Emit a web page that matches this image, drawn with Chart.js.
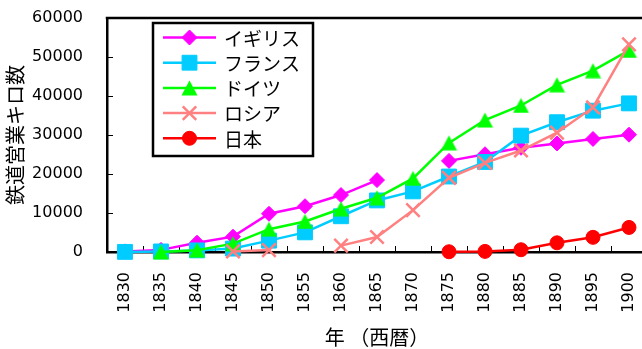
<!DOCTYPE html>
<html>
<head>
<meta charset="utf-8">
<script src="https://cdn.jsdelivr.net/npm/chart.js@4/dist/chart.umd.min.js"></script>
<style>
  html, body { margin: 0; padding: 0; overflow: hidden; background: #fff; }
  #wrap { width: 647px; height: 349px; position: relative; }
</style>
</head>
<body>
<div id="wrap"><canvas id="c"></canvas></div>
<script>
// Railway route length (km) by country, every five years
const years   = ['1830','1835','1840','1845','1850','1855','1860','1865','1870','1875','1880','1885','1890','1895','1900'];
const britain = [157, 544, 2390, 3931, 9797, 11744, 14603, 18439, null, 23365, 25060, 26720, 27827, 28986, 30079];
const france  = [31, 141, 410, 875, 2915, 5037, 9167, 13227, 15544, 19357, 23089, 29839, 33280, 36240, 38109];
const germany = [null, 6, 469, 2143, 5856, 7826, 11089, 13900, 18876, 27981, 33838, 37572, 42869, 46500, 51678];
const russia  = [null, null, null, 144, 501, null, 1626, 3842, 10731, 19029, 22865, 26024, 30596, 37058, 53234];
const japan   = [null, null, null, null, null, null, null, null, null, 62, 158, 580, 2349, 3763, 6300];

const seriesNames = ['イギリス', 'フランス', 'ドイツ', 'ロシア', '日本'];
const yMin = 0, yMax = 60000, yStep = 10000;
const yTitle = '鉄道営業キロ数';
const xTitle = '年 （西暦）';

const tickFont = { family: 'DejaVu Sans', size: 16 };
const cjkFont = '"Noto Sans CJK JP", "Noto Sans CJK SC", sans-serif';

// Upright triangle marker centred on its point
function triangleMarker(color) {
  const cv = document.createElement('canvas');
  cv.width = 17; cv.height = 16;
  const g = cv.getContext('2d');
  g.fillStyle = color;
  g.beginPath();
  g.moveTo(8.5, 0.5); g.lineTo(16.5, 15.5); g.lineTo(0.5, 15.5);
  g.closePath(); g.fill();
  return cv;
}

function series(label, data, color, style, radius, order) {
  return {
    label, data, order,
    borderColor: color, backgroundColor: color,
    borderWidth: 2.5,
    pointStyle: style, pointRadius: radius, pointHoverRadius: radius,
    pointBackgroundColor: color, pointBorderColor: color,
    pointBorderWidth: style === 'crossRot' ? 2.5 : 1,
    tension: 0, spanGaps: false, clip: false
  };
}

const datasets = [
  series(seriesNames[0], britain, '#FF00FF', 'rectRot', 7.5, 4),
  series(seriesNames[1], france,  '#00CCFF', 'rect', 10.5, 3),
  series(seriesNames[2], germany, '#00FF00', triangleMarker('#00FF00'), 8, 2),
  series(seriesNames[3], russia,  '#FF8080', 'crossRot', 9.5, 1),
  series(seriesNames[4], japan,   '#FF0000', 'circle', 7, 0)
];

// Frame line on top and inward tick marks on both axes
const frameAndTicks = {
  id: 'frameAndTicks',
  beforeDatasetsDraw(chart) {
    const { ctx, chartArea: a, scales } = chart;
    ctx.save();
    ctx.strokeStyle = '#000';
    ctx.lineWidth = 2.5;
    ctx.beginPath();
    ctx.moveTo(a.left - 1.25, a.top);
    ctx.lineTo(a.right, a.top);
    ctx.stroke();
    ctx.lineWidth = 1;
    ctx.beginPath();
    const x = scales.x, y = scales.y;
    for (let i = 0; i < years.length - 1; i++) {
      const px = Math.round((x.getPixelForValue(i) + x.getPixelForValue(i + 1)) / 2) + 0.5;
      ctx.moveTo(px, a.bottom);
      ctx.lineTo(px, a.bottom - 6);
    }
    y.ticks.forEach(t => {
      const py = Math.round(y.getPixelForValue(t.value)) + 0.5;
      ctx.moveTo(a.left, py);
      ctx.lineTo(a.left + 6, py);
    });
    ctx.stroke();
    ctx.restore();
  }
};

function drawMarker(ctx, ds, cx, cy) {
  const st = ds.pointStyle, r = ds.pointRadius;
  ctx.fillStyle = ds.pointBackgroundColor;
  ctx.strokeStyle = ds.pointBorderColor;
  ctx.lineWidth = ds.pointBorderWidth;
  if (st instanceof HTMLCanvasElement) {
    ctx.drawImage(st, cx - st.width / 2, cy - st.height / 2);
    return;
  }
  ctx.beginPath();
  if (st === 'circle') {
    ctx.arc(cx, cy, r, 0, Math.PI * 2);
    ctx.fill(); ctx.stroke();
  } else if (st === 'rect') {
    const s = r * Math.SQRT1_2;
    ctx.rect(cx - s, cy - s, 2 * s, 2 * s);
    ctx.fill(); ctx.stroke();
  } else if (st === 'rectRot') {
    ctx.moveTo(cx, cy - r); ctx.lineTo(cx + r, cy); ctx.lineTo(cx, cy + r); ctx.lineTo(cx - r, cy);
    ctx.closePath(); ctx.fill(); ctx.stroke();
  } else if (st === 'crossRot') {
    const s = r * Math.SQRT1_2;
    ctx.moveTo(cx - s, cy - s); ctx.lineTo(cx + s, cy + s);
    ctx.moveTo(cx + s, cy - s); ctx.lineTo(cx - s, cy + s);
    ctx.stroke();
  }
}

// Boxed legend sitting inside the plot
const insetLegend = {
  id: 'insetLegend',
  afterDraw(chart) {
    const ctx = chart.ctx;
    const bx = 153, by = 23, bw = 160, bh = 133;
    ctx.save();
    ctx.fillStyle = '#fff';
    ctx.fillRect(bx, by, bw, bh);
    ctx.strokeStyle = '#000';
    ctx.lineWidth = 2.5;
    ctx.strokeRect(bx, by, bw, bh);
    chart.data.datasets.forEach((ds, i) => {
      const cy = 37.5 + i * 25.2;
      ctx.strokeStyle = ds.borderColor;
      ctx.lineWidth = ds.borderWidth;
      ctx.beginPath();
      ctx.moveTo(163, cy); ctx.lineTo(216, cy);
      ctx.stroke();
      drawMarker(ctx, ds, 189.5, cy);
      ctx.fillStyle = '#000';
      ctx.font = '19px ' + cjkFont;
      ctx.textBaseline = 'middle';
      ctx.textAlign = 'left';
      ctx.fillText(ds.label, 224, cy + 1);
    });
    ctx.restore();
  }
};

new Chart(document.getElementById('c'), {
  type: 'line',
  data: { labels: years, datasets },
  plugins: [frameAndTicks, insetLegend],
  options: {
    responsive: true,
    maintainAspectRatio: false,
    animation: false,
    devicePixelRatio: 1,
    layout: { autoPadding: false, padding: { top: 18, left: 3, right: 0, bottom: 0 } },
    plugins: { legend: { display: false }, tooltip: { enabled: false } },
    scales: {
      x: {
        type: 'category',
        offset: true,
        grid: { display: false },
        border: { display: true, color: '#000', width: 2.5 },
        ticks: { color: '#000', font: tickFont, minRotation: 90, maxRotation: 90, padding: 12, autoSkip: false },
        title: { display: true, text: xTitle, color: '#000', font: { family: cjkFont, size: 20, lineHeight: 1.2 }, padding: 0 },
        afterFit(scale) {
          scale.height = 97;
          scale.paddingLeft = 0;
          scale.paddingRight = 0;
        }
      },
      y: {
        min: yMin, max: yMax,
        grid: { display: false },
        border: { display: true, color: '#000', width: 2.5 },
        ticks: { color: '#000', font: tickFont, stepSize: yStep, padding: 16, callback: v => String(v) },
        title: { display: true, text: yTitle, color: '#000', font: { family: cjkFont, size: 20, lineHeight: 1.2 }, padding: 0 },
        afterFit(scale) {
          scale.width = 104;
          scale.paddingTop = 0;
          scale.paddingBottom = 0;
        }
      }
    }
  }
});
</script>
</body>
</html>
